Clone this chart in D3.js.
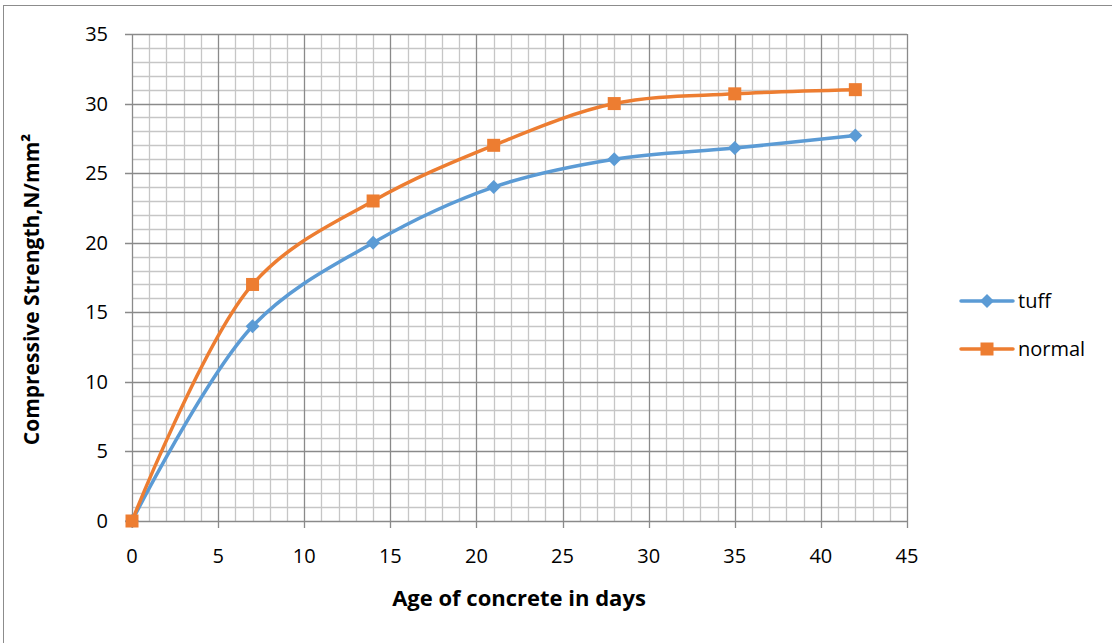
<!DOCTYPE html>
<html>
<head>
<meta charset="utf-8">
<script src="https://cdn.jsdelivr.net/npm/d3@7"></script>
<style>
  body { margin: 0; background: #fff; }
  svg { display: block; font-family: "Open Sans", Lato, sans-serif; }
</style>
</head>
<body>
<svg id="vis" width="1112" height="643"></svg>
<script>
// chart data
var days = [0, 7, 14, 21, 28, 35, 42];
var tuff = [0, 14, 20, 24, 26, 26.8, 27.7];
var normal = [0, 17, 23, 27, 30, 30.7, 31];
var xTicks = [0, 5, 10, 15, 20, 25, 30, 35, 40, 45];
var yTicks = [0, 5, 10, 15, 20, 25, 30, 35];
var seriesNames = ["tuff", "normal"];
var colors = ["#5b9bd5", "#ed7d31"];

var vis = d3.select("#vis");
// plot area edges (don't use "top", it's window.top)
var plotL = 132, plotR = 907, plotT = 34, plotB = 521;

var x = d3.scaleLinear().domain([0, 45]).range([plotL, plotR]);
var y = d3.scaleLinear().domain([0, 35]).range([plotB, plotT]);

// outer chart frame
vis.append("rect")
    .attr("x", 3.5).attr("y", 5.5)
    .attr("width", 1120).attr("height", 650)
    .attr("fill", "none").attr("stroke", "#8c8c8c").attr("stroke-width", 1);

// minor grid
var grid = vis.append("g");
d3.range(0, 46).filter(v => v % 5).forEach(v => {
    grid.append("line")
        .attr("x1", Math.round(x(v)) + 0.5).attr("x2", Math.round(x(v)) + 0.5)
        .attr("y1", plotT).attr("y2", plotB)
        .attr("stroke", "#c6c6c6").attr("stroke-width", 1.3);
});
d3.range(0, 36).filter(v => v % 5).forEach(v => {
    grid.append("line")
        .attr("y1", Math.round(y(v)) + 0.5).attr("y2", Math.round(y(v)) + 0.5)
        .attr("x1", plotL).attr("x2", plotR)
        .attr("stroke", "#c6c6c6").attr("stroke-width", 1.3);
});

// major grid
xTicks.forEach(v => {
    grid.append("line")
        .attr("x1", Math.round(x(v)) + 0.5).attr("x2", Math.round(x(v)) + 0.5)
        .attr("y1", plotT).attr("y2", plotB + 7)
        .attr("stroke", "#8a8a8a").attr("stroke-width", 1.3);
});
yTicks.forEach(v => {
    grid.append("line")
        .attr("y1", Math.round(y(v)) + 0.5).attr("y2", Math.round(y(v)) + 0.5)
        .attr("x1", plotL - 7).attr("x2", plotR)
        .attr("stroke", "#8a8a8a").attr("stroke-width", 1.3);
});

// tick labels
vis.append("g").selectAll("text").data(yTicks).join("text")
    .attr("x", 108).attr("y", d => y(d) + 7)
    .attr("text-anchor", "end")
    .attr("font-size", "20px").attr("fill", "#000")
    .text(d => d);

vis.append("g").selectAll("text").data(xTicks).join("text")
    .attr("x", d => x(d)).attr("y", 563)
    .attr("text-anchor", "middle")
    .attr("font-size", "20px").attr("fill", "#000")
    .text(d => d);

// axis titles
vis.append("text")
    .attr("x", 519).attr("y", 606)
    .attr("text-anchor", "middle")
    .attr("font-size", "22px").attr("font-weight", "bold")
    .text("Age of concrete in days");

vis.append("text")
    .attr("transform", "translate(39 " + ((plotT + plotB) / 2 + 12) + ") rotate(-90)")
    .attr("text-anchor", "middle")
    .attr("font-size", "21px").attr("font-weight", "bold")
    .text("Compressive Strength,N/mm²");

// series
var line = d3.line()
    .x(d => x(d[0]))
    .y(d => y(d[1]))
    .curve(d3.curveCatmullRom.alpha(0.5));

var series = [tuff, normal].map((vals, i) => ({
    name: seriesNames[i],
    color: colors[i],
    pts: days.map((dd, j) => [dd, vals[j]])
}));

function marker(g, i, cx, cy) {
    if (i == 0) {
        g.append("path")
            .attr("d", `M${cx},${cy - 7}L${cx + 7},${cy}L${cx},${cy + 7}L${cx - 7},${cy}Z`)
            .attr("fill", colors[i]);
    } else {
        g.append("rect")
            .attr("x", cx - 6.5).attr("y", cy - 6.5)
            .attr("width", 13).attr("height", 13)
            .attr("fill", colors[i]);
    }
}

series.forEach((s, i) => {
    vis.append("path")
        .attr("d", line(s.pts))
        .attr("fill", "none")
        .attr("stroke", s.color)
        .attr("stroke-width", 3.5)
        .attr("stroke-linecap", "round");
    var g = vis.append("g");
    s.pts.forEach(p => marker(g, i, x(p[0]), y(p[1])));
});

// legend
series.forEach((s, i) => {
    var ly = 301 + i * 48;
    var g = vis.append("g");
    g.append("line")
        .attr("x1", 961).attr("x2", 1013)
        .attr("y1", ly).attr("y2", ly)
        .attr("stroke", s.color).attr("stroke-width", 3.5)
        .attr("stroke-linecap", "round");
    marker(g, i, 987, ly);
    g.append("text")
        .attr("x", 1018).attr("y", ly + 7)
        .attr("font-size", "20px")
        .text(s.name);
});
</script>
</body>
</html>
